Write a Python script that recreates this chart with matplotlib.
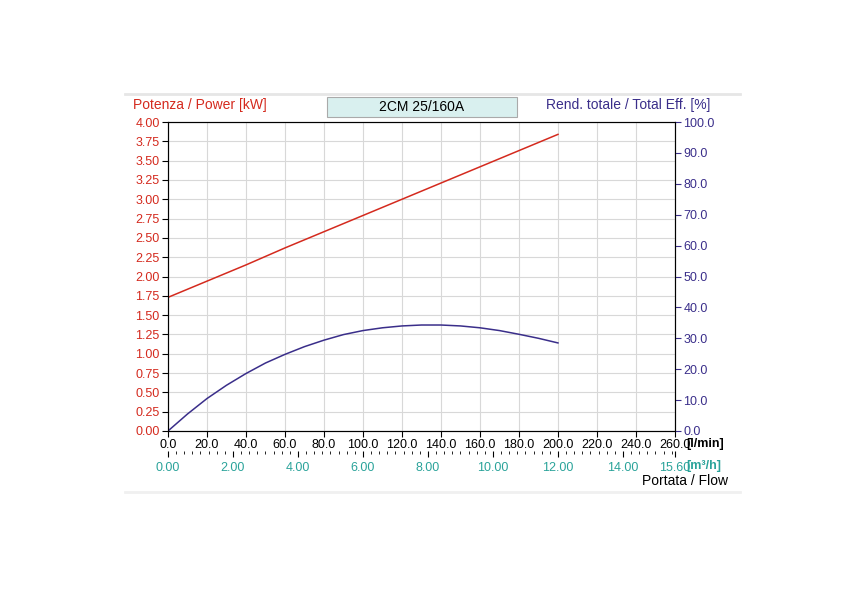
import numpy as np
import matplotlib
matplotlib.use('Agg')
import matplotlib.pyplot as plt
from matplotlib.patches import Rectangle
from matplotlib.ticker import MultipleLocator, FixedLocator

plt.rcParams['font.family'] = ['Liberation Sans', 'DejaVu Sans']

# data
flow_lmin = [0, 20, 40, 60, 80, 100, 120, 140, 160, 180, 200]
power_kw = [1.73, 1.94, 2.15, 2.37, 2.58, 2.79, 3.00, 3.21, 3.42, 3.63, 3.84]
eff_flow = [0, 10, 20, 30, 40, 50, 60, 70, 80, 90, 100, 110, 120, 130, 140, 150, 160, 170, 180, 190, 200]
eff_pct = [0.0, 5.5, 10.5, 14.8, 18.6, 22.0, 24.8, 27.3, 29.4, 31.2, 32.5, 33.4, 34.0, 34.3, 34.3, 34.0, 33.4, 32.5, 31.3, 30.0, 28.5]

red = '#d42a1e'
navy = '#3a2e8a'
teal = '#2aa39a'

fig = plt.figure(figsize=(8.65, 6.15), dpi=100)
ax = fig.add_axes([0.1942, 0.2992, 0.5861, 0.5024])
ax.plot(flow_lmin, power_kw, color=red, lw=1.1)
ax.set_xlim(0, 260)
ax.set_ylim(0, 4)
ax.set_xticks(np.arange(0, 261, 20))
ax.set_xticklabels([f'{v:.1f}' for v in np.arange(0, 261, 20)], fontsize=9)
ax.set_yticks(np.arange(0, 4.01, 0.25))
ax.set_yticklabels([f'{v:.2f}' for v in np.arange(0, 4.01, 0.25)], fontsize=9, color=red)
ax.grid(True, color='#d8d8d8', lw=0.8)
ax.tick_params(length=4, pad=2)
for s in ax.spines.values():
    s.set_color('#333333')

ax2 = ax.twinx()
ax2.plot(eff_flow, eff_pct, color=navy, lw=1.1)
ax2.set_ylim(0, 100)
ax2.set_yticks(np.arange(0, 101, 10))
ax2.set_yticklabels([f'{v:.1f}' for v in np.arange(0, 101, 10)], fontsize=9, color=navy)
ax2.tick_params(length=4, pad=2, color=navy)

sec = ax.secondary_xaxis(-0.065, functions=(lambda x: x * 0.06, lambda x: x / 0.06))
sec.spines['bottom'].set_visible(False)
m3h = [0, 2, 4, 6, 8, 10, 12, 14, 15.6]
sec.xaxis.set_major_locator(FixedLocator(m3h))
sec.set_xticklabels([f'{v:.2f}' for v in m3h], fontsize=9, color=teal)
sec.xaxis.set_minor_locator(MultipleLocator(0.25))
sec.tick_params(which='major', length=4, pad=4)
sec.tick_params(which='minor', length=2)

fig.text(686 / 865, 1 - 444 / 615, '[l/min]', fontsize=9, va='center', fontweight='bold')
fig.text(686 / 865, 1 - 466 / 615, '[m³/h]', fontsize=9, va='center', color=teal, fontweight='bold')
fig.text(728 / 865, 1 - 481 / 615, 'Portata / Flow', fontsize=10, va='center', ha='right')
fig.text(133 / 865, 1 - 105 / 615, 'Potenza / Power [kW]', fontsize=10, color=red, va='center')
fig.text(710 / 865, 1 - 105 / 615, 'Rend. totale / Total Eff. [%]', fontsize=10, color=navy,
         va='center', ha='right')

fig.patches.append(Rectangle((327 / 865, 1 - 117 / 615), 190 / 865, 20 / 615, transform=fig.transFigure,
                             facecolor='#d9f0ef', edgecolor='#aaaaaa', lw=0.8))
fig.text(422 / 865, 1 - 107 / 615, '2CM 25/160A', ha='center', va='center', fontsize=10)
fig.add_artist(plt.Line2D([125 / 865, 740 / 865], [1 - 94 / 615] * 2, color='#e6e6e6', lw=2))
fig.add_artist(plt.Line2D([125 / 865, 740 / 865], [1 - 492 / 615] * 2, color='#f0f0f0', lw=2))

fig.savefig('out.png', dpi=100)
